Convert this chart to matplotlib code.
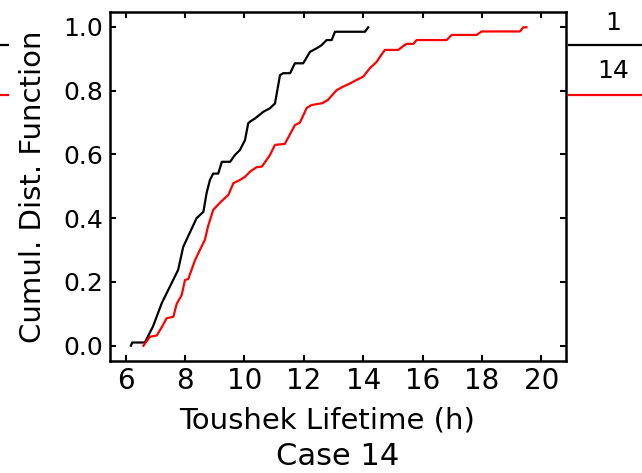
import matplotlib
matplotlib.use("Agg")
import matplotlib.pyplot as plt
from matplotlib.lines import Line2D

# values (polyline through the CDF steps)
case1_x = [6.18, 6.22, 6.65, 6.92, 7.22, 7.49, 7.77, 7.94, 8.39, 8.62, 8.73,
           8.84, 8.95, 9.12, 9.24, 9.52, 9.68, 9.85, 10.02, 10.13, 10.19,
           10.36, 10.64, 10.86, 11.03, 11.20, 11.31, 11.54, 11.70, 11.98,
           12.21, 12.43, 12.60, 12.77, 12.94, 13.05, 14.06, 14.17]
case1_y = [0.0, 0.01, 0.01, 0.06, 0.134, 0.185, 0.238, 0.31, 0.40, 0.42, 0.48,
           0.52, 0.54, 0.54, 0.577, 0.577, 0.598, 0.614, 0.645, 0.698, 0.703,
           0.713, 0.734, 0.745, 0.76, 0.849, 0.855, 0.855, 0.886, 0.886,
           0.922, 0.933, 0.943, 0.959, 0.959, 0.985, 0.985, 0.999]

case14_x = [6.60, 6.82, 7.05, 7.23, 7.38, 7.61, 7.72, 7.89, 8.00, 8.11, 8.34,
            8.50, 8.67, 8.78, 8.95, 9.18, 9.46, 9.63, 9.85, 10.02, 10.19,
            10.41, 10.59, 10.86, 11.03, 11.36, 11.54, 11.70, 11.87, 12.10,
            12.26, 12.63, 12.81, 13.11, 13.33, 13.56, 13.78, 14.00, 14.23,
            14.45, 14.57, 14.73, 15.18, 15.35, 15.46, 15.69, 15.80, 16.81,
            16.98, 17.82, 17.99, 19.28, 19.39, 19.50]
case14_y = [0.0, 0.028, 0.032, 0.06, 0.086, 0.091, 0.131, 0.159, 0.206, 0.209,
            0.269, 0.30, 0.332, 0.376, 0.426, 0.449, 0.473, 0.51, 0.52, 0.53,
            0.546, 0.56, 0.562, 0.598, 0.63, 0.633, 0.664, 0.692, 0.70, 0.746,
            0.755, 0.761, 0.771, 0.802, 0.813, 0.823, 0.834, 0.844, 0.871,
            0.89, 0.907, 0.928, 0.928, 0.94, 0.947, 0.947, 0.959, 0.959,
            0.975, 0.975, 0.986, 0.986, 0.999, 0.999]

legend_names = ["1", "14"]
colors = ["black", "red"]

W, H = 642, 473
fig = plt.figure(figsize=(W / 100, H / 100), dpi=100)
ax = fig.add_axes([110 / W, 1 - 361 / H, 455.7 / W, 349 / H])

ax.plot(case1_x, case1_y, color=colors[0], lw=1.6)
ax.plot(case14_x, case14_y, color=colors[1], lw=1.6)

ax.set_xlim(5.475, 20.82)
ax.set_ylim(-0.048, 1.047)
ax.set_xticks([6, 8, 10, 12, 14, 16, 18, 20])
ax.set_yticks([0.0, 0.2, 0.4, 0.6, 0.8, 1.0])
ax.set_yticklabels(["0.0", "0.2", "0.4", "0.6", "0.8", "1.0"])
ax.tick_params(direction="in", top=True, right=True, length=4, width=1.5)
ax.tick_params(axis="x", labelsize=20, pad=4)
ax.tick_params(axis="y", labelsize=18, pad=5)
for s in ax.spines.values():
    s.set_linewidth(1.8)

fig.text(327 / W, 1 - 428 / H, "Toushek Lifetime (h)", fontsize=21,
         ha="center", va="baseline")
fig.text(338 / W, 1 - 465 / H, "Case 14", fontsize=22,
         ha="center", va="baseline")
fig.text(33 / W, 1 - 187 / H, "Cumul. Dist. Function", fontsize=21,
         rotation=90, ha="center", va="center")

# legend outside on the right
fig.text(613 / W, 1 - 23 / H, legend_names[0], fontsize=18, ha="center", va="center")
fig.text(613 / W, 1 - 71 / H, legend_names[1], fontsize=18, ha="center", va="center")
for ypix, c in zip([45, 95], colors):
    yf = 1 - ypix / H
    fig.add_artist(Line2D([569 / W, 1.0], [yf, yf], color=c, lw=1.6))
    fig.add_artist(Line2D([0.0, 8 / W], [yf, yf], color=c, lw=1.6))

fig.savefig("out.png", dpi=100)
